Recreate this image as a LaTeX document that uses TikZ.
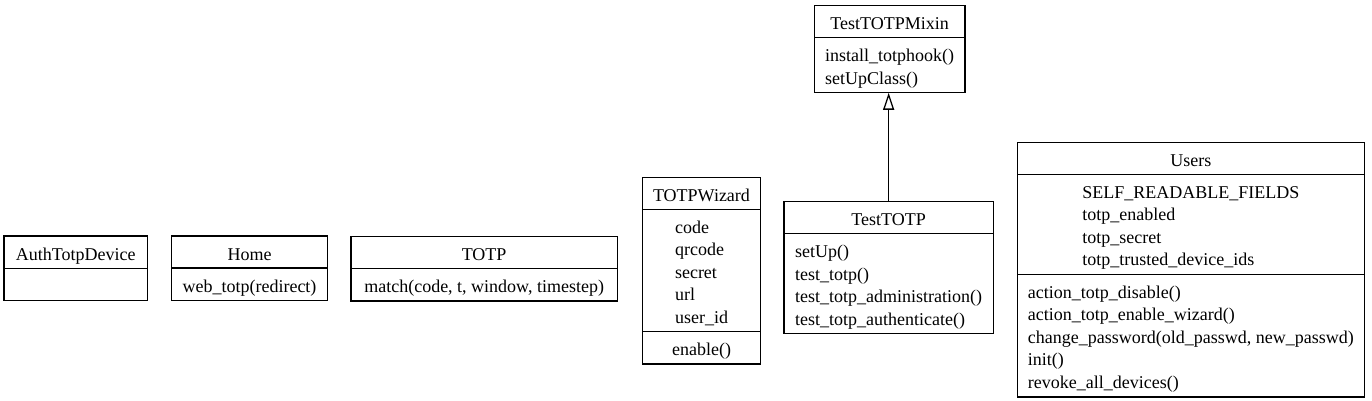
\documentclass[tikz,border=0pt]{standalone}
\usepackage{fontspec}
\setmainfont{Liberation Serif}
\usetikzlibrary{arrows.meta}
\newcommand\ls{\rule[-3.25pt]{0pt}{22.5pt}}
\newcommand\classfont{\fontsize{18}{22.5}\selectfont\lineskiplimit=-100pt\relax\lineskip=0pt\relax}
\tikzset{
  comp/.style={draw, line width=1.3pt, inner xsep=0pt, inner ysep=4.75pt, outer sep=0pt,
    align=left, anchor=north, font=\classfont},
  inherit/.style={line width=1.3pt, -{Triangle[open, length=17pt, width=11pt]}}
}
\begin{document}
\begin{tikzpicture}[x=1pt,y=-1pt]
\useasboundingbox (0,0) rectangle (1372,401);
% AuthTotpDevice
\node[comp, minimum width=143.3, anchor=north west] (authT) at (4,236) {\ls AuthTotpDevice};
\node[comp, minimum width=143.3] (authB) at (authT.south) {\ls};
% Home
\node[comp, minimum width=155.6, anchor=north west] (homeT) at (171.7,236) {\ls Home};
\node[comp, minimum width=155.6] (homeM) at (homeT.south) {\ls web\_totp(redirect)};
% TOTP
\node[comp, minimum width=266.3, anchor=north west] (totpT) at (351,236.5) {\ls TOTP};
\node[comp, minimum width=266.3] (totpM) at (totpT.south) {\ls match(code, t, window, timestep)};
% TOTPWizard
\node[comp, minimum width=118.4, anchor=north west] (wizT) at (642.3,177.3) {\ls TOTPWizard};
\node[comp, minimum width=118.4] (wizA) at (wizT.south) {\ls code\\\ls qrcode\\\ls secret\\\ls url\\\ls user\_id};
\node[comp, minimum width=118.4] (wizM) at (wizA.south) {\ls enable()};
% TestTOTPMixin
\node[comp, minimum width=150.7, anchor=north west] (mixT) at (814.3,5.7) {\ls TestTOTPMixin};
\node[comp, minimum width=150.7] (mixM) at (mixT.south) {\ls install\_totphook()\\\ls setUpClass()};
% TestTOTP
\node[comp, minimum width=209.3, anchor=north west] (testT) at (784,201.7) {\ls TestTOTP};
\node[comp, minimum width=209.3] (testM) at (testT.south) {\ls setUp()\\\ls test\_totp()\\\ls test\_totp\_administration()\\\ls test\_totp\_authenticate()};
% Users
\node[comp, minimum width=347, anchor=north west] (usersT) at (1017.3,142.3) {\ls Users};
\node[comp, minimum width=347] (usersA) at (usersT.south) {\ls SELF\_READABLE\_FIELDS\\\ls totp\_enabled\\\ls totp\_secret\\\ls totp\_trusted\_device\_ids};
\node[comp, minimum width=347] (usersM) at (usersA.south) {\ls action\_totp\_disable()\\\ls action\_totp\_enable\_wizard()\\\ls change\_password(old\_passwd, new\_passwd)\\\ls init()\\\ls revoke\_all\_devices()};
% inheritance
\draw[inherit] (testT.north) -- (testT.north |- mixM.south);
\end{tikzpicture}
\end{document}
